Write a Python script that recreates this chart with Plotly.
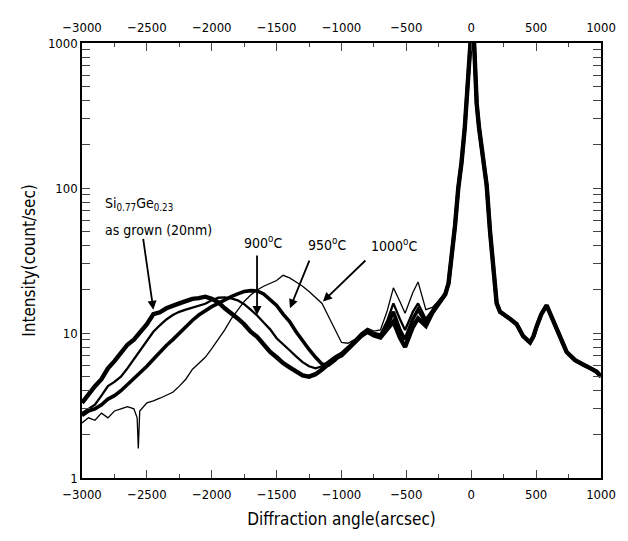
import plotly.graph_objects as go

# ---------------- data ----------------
# left part of each curve (SiGe layer peak region)
asgrown_x = [-3000, -2950, -2900, -2850, -2800, -2750, -2700, -2650, -2600, -2550, -2500, -2450, -2400,
             -2350, -2300, -2250, -2200, -2150, -2100, -2050, -2000, -1950, -1900, -1850, -1800, -1750,
             -1700, -1650, -1600, -1550, -1500, -1450, -1400, -1350, -1300, -1250, -1200, -1150, -1100, -1050]
asgrown_y = [3.3, 3.8, 4.3, 4.8, 5.7, 6.4, 7.3, 8.3, 9.0, 10.1, 11.5, 13.5, 13.9,
             14.8, 15.5, 16.0, 16.6, 17.2, 17.4, 17.8, 17.2, 16.3, 14.8, 13.8, 12.6, 11.5,
             10.2, 9.4, 8.4, 7.4, 6.8, 6.2, 5.8, 5.4, 5.1, 5.0, 5.2, 5.6, 6.1, 6.7]

c900_x = [-3000, -2950, -2900, -2850, -2800, -2750, -2700, -2650, -2600, -2550, -2500, -2450, -2400,
          -2350, -2300, -2250, -2200, -2150, -2100, -2050, -2000, -1950, -1900, -1850, -1800, -1750,
          -1700, -1650, -1600, -1550, -1500, -1450, -1400, -1350, -1300, -1250, -1200, -1150, -1100, -1050]
c900_y = [2.8, 3.0, 3.2, 3.7, 4.3, 4.6, 5.0, 5.7, 6.6, 7.6, 8.8, 10.2, 11.3,
          12.4, 13.3, 14.0, 14.5, 14.9, 15.3, 15.9, 16.8, 17.5, 17.6, 17.3, 16.8, 15.8,
          14.5, 13.2, 11.8, 10.6, 9.2, 8.3, 7.6, 6.9, 6.3, 5.9, 5.7, 5.9, 6.4, 6.9]

c950_x = [-3000, -2950, -2900, -2850, -2800, -2750, -2700, -2650, -2600, -2550, -2500, -2450, -2400,
          -2350, -2300, -2250, -2200, -2150, -2100, -2050, -2000, -1950, -1900, -1850, -1800, -1750,
          -1700, -1650, -1600, -1550, -1500, -1450, -1400, -1350, -1300, -1250, -1200, -1150, -1100, -1050]
c950_y = [2.7, 2.9, 3.0, 3.2, 3.5, 3.7, 4.0, 4.4, 4.9, 5.3, 5.9, 6.6, 7.4,
          8.2, 9.0, 10.0, 11.2, 12.2, 13.3, 14.3, 15.2, 16.0, 17.0, 17.8, 18.6, 19.3,
          19.6, 19.5, 18.6, 16.9, 15.5, 13.5, 12.0, 10.2, 8.8, 7.7, 6.8, 6.1, 6.0, 6.5]

c1000_x = [-3000, -2950, -2900, -2850, -2800, -2750, -2700, -2650, -2600, -2575, -2566, -2555, -2500,
           -2450, -2400, -2350, -2300, -2250, -2200, -2150, -2100, -2050, -2000, -1950, -1900, -1850,
           -1800, -1750, -1700, -1650, -1600, -1550, -1500, -1450, -1400, -1350, -1300, -1250, -1200,
           -1150, -1100, -1050]
c1000_y = [2.4, 2.6, 2.5, 2.8, 2.6, 2.9, 3.0, 3.1, 3.0, 2.6, 1.6, 2.9, 3.3,
           3.4, 3.55, 3.7, 3.9, 4.3, 4.8, 5.6, 6.2, 6.8, 7.8, 9.0, 10.5, 12.5,
           14.5, 16.5, 18.3, 19.8, 21.0, 22.0, 23.0, 25.0, 24.0, 22.5, 21.0, 19.3, 17.5,
           16.0, 13.0, 10.5]

# middle part (-1000 .. -175): small satellite bumps differ by curve
mid_x = [-1000, -950, -900, -850, -800, -750, -700, -650, -600, -550, -510, -450, -410, -350, -300, -250, -200, -175]
asgrown_mid = [7.0, 7.8, 8.5, 9.5, 10.2, 9.6, 9.3, 10.6, 12.0, 9.3, 8.0, 11.0, 12.6, 11.2, 13.8, 16.0, 18.5, 22.0]
c900_mid    = [7.3, 8.0, 8.8, 9.8, 10.5, 10.0, 9.8, 12.0, 16.0, 12.5, 10.5, 14.0, 16.0, 12.5, 14.5, 16.5, 18.8, 22.0]
c950_mid    = [7.2, 7.9, 8.6, 9.6, 10.3, 9.8, 9.5, 11.0, 14.0, 10.5, 9.0, 12.5, 14.5, 11.8, 14.0, 16.2, 18.6, 22.0]
c1000_mid   = [8.6, 8.5, 9.0, 10.0, 10.8, 10.3, 10.5, 14.0, 20.5, 16.5, 13.7, 19.0, 22.5, 14.5, 15.0, 16.8, 19.0, 22.0]

# substrate peak and right side (common to all curves)
peak_x = [-150, -125, -100, -75, -50, -30, -15, -5, 5, 20, 30, 42, 60, 81, 100, 119, 145, 170, 196, 222,
          250, 300, 350, 400, 453, 480, 504, 540, 581, 610, 658, 700, 735, 800, 864, 920, 967, 1000]
peak_y = [33, 55, 100, 150, 260, 500, 800, 1300, 1400, 1100, 700, 380, 260, 185, 135, 104, 50, 30, 16, 14,
          13.5, 12.5, 11.5, 9.5, 8.6, 9.5, 11.1, 13.5, 15.5, 13.5, 10.6, 8.5, 7.4, 6.5, 6.0, 5.7, 5.4, 5.0]

x_ticks = [-3000, -2500, -2000, -1500, -1000, -500, 0, 500, 1000]
y_ticks = [1, 10, 100, 1000]
y_minor = [m * d for d in (1, 10, 100) for m in range(2, 10)]

FONT = "Liberation Sans Narrow, DejaVu Sans Condensed, Arial Narrow, Liberation Sans, Arial, sans-serif"

series = [
    ("as grown", asgrown_x, asgrown_y, asgrown_mid, 4.4),
    ("950", c950_x, c950_y, c950_mid, 3.6),
    ("900", c900_x, c900_y, c900_mid, 2.3),
    ("1000", c1000_x, c1000_y, c1000_mid, 1.3),
]

fig = go.Figure()
for name, xs, ys, mids, w in series:
    fig.add_trace(go.Scatter(
        x=xs + mid_x + peak_x, y=ys + mids + peak_y, mode="lines", name=name,
        line=dict(color="black", width=w), showlegend=False))

# invisible trace on the top axis
fig.add_trace(go.Scatter(x=[-3000, 1000], y=[1, 1], xaxis="x2", mode="lines",
                         line=dict(width=0), showlegend=False, hoverinfo="skip"))

common_x = dict(range=[-3000, 1000], tickvals=x_ticks, ticks="inside", ticklen=8, tickwidth=1.3,
                showline=True, linecolor="black", linewidth=1.5, showgrid=False, zeroline=False,
                tickfont=dict(family=FONT, size=13, color="black"), ticklabelstandoff=4,
                minor=dict(ticks="inside", ticklen=4, tickwidth=1, dtick=250, showgrid=False))

fig.update_layout(
    width=620, height=533,
    margin=dict(l=74, r=27, t=27, b=63),
    paper_bgcolor="white", plot_bgcolor="white",
    font=dict(family=FONT, color="black"),
    xaxis=dict(**common_x,
               title=dict(text="Diffraction angle(arcsec)", font=dict(family=FONT, size=17), standoff=12)),
    xaxis2=dict(**common_x, overlaying="x", side="top"),
    yaxis=dict(type="log", range=[0, 3], tickvals=y_ticks, ticktext=["1", "10", "100", "1000"],
               ticks="inside", ticklen=8, tickwidth=1.3, showline=True, linecolor="black", linewidth=1.5,
               mirror="allticks", showgrid=False, zeroline=False,
               tickfont=dict(family=FONT, size=13, color="black"),
               minor=dict(ticks="inside", ticklen=4, tickwidth=1, tickvals=y_minor, showgrid=False),
               title=dict(text="Intensity(count/sec)", font=dict(family=FONT, size=17), standoff=8)),
)

txt = dict(family=FONT, size=14, color="black")
fig.add_annotation(x=-2838, y=1.889, text="Si<sub>0.77</sub>Ge<sub>0.23</sub>", showarrow=False,
                   xanchor="left", font=txt)
fig.add_annotation(x=-2838, y=1.713, text="as grown (20nm)", showarrow=False, xanchor="left", font=txt)
fig.add_annotation(x=-1605, y=1.625, text="900<sup>o</sup>C", showarrow=False, font=txt)
fig.add_annotation(x=-1112, y=1.611, text="950<sup>o</sup>C", showarrow=False, font=txt)
fig.add_annotation(x=-595, y=1.605, text="1000<sup>o</sup>C", showarrow=False, font=txt)

arrows = [(-2530, 1.659, -2450, 1.16), (-1651, 1.544, -1651, 1.124),
          (-1243, 1.510, -1397, 1.171), (-804, 1.510, -1143, 1.217)]
for ax_, ay_, hx, hy in arrows:
    fig.add_annotation(x=hx, y=hy, ax=ax_, ay=ay_, axref="x", ayref="y", xref="x", yref="y",
                       text="", showarrow=True, arrowhead=2, arrowsize=1, arrowwidth=1.8,
                       arrowcolor="black")

fig.write_html("out.html")
